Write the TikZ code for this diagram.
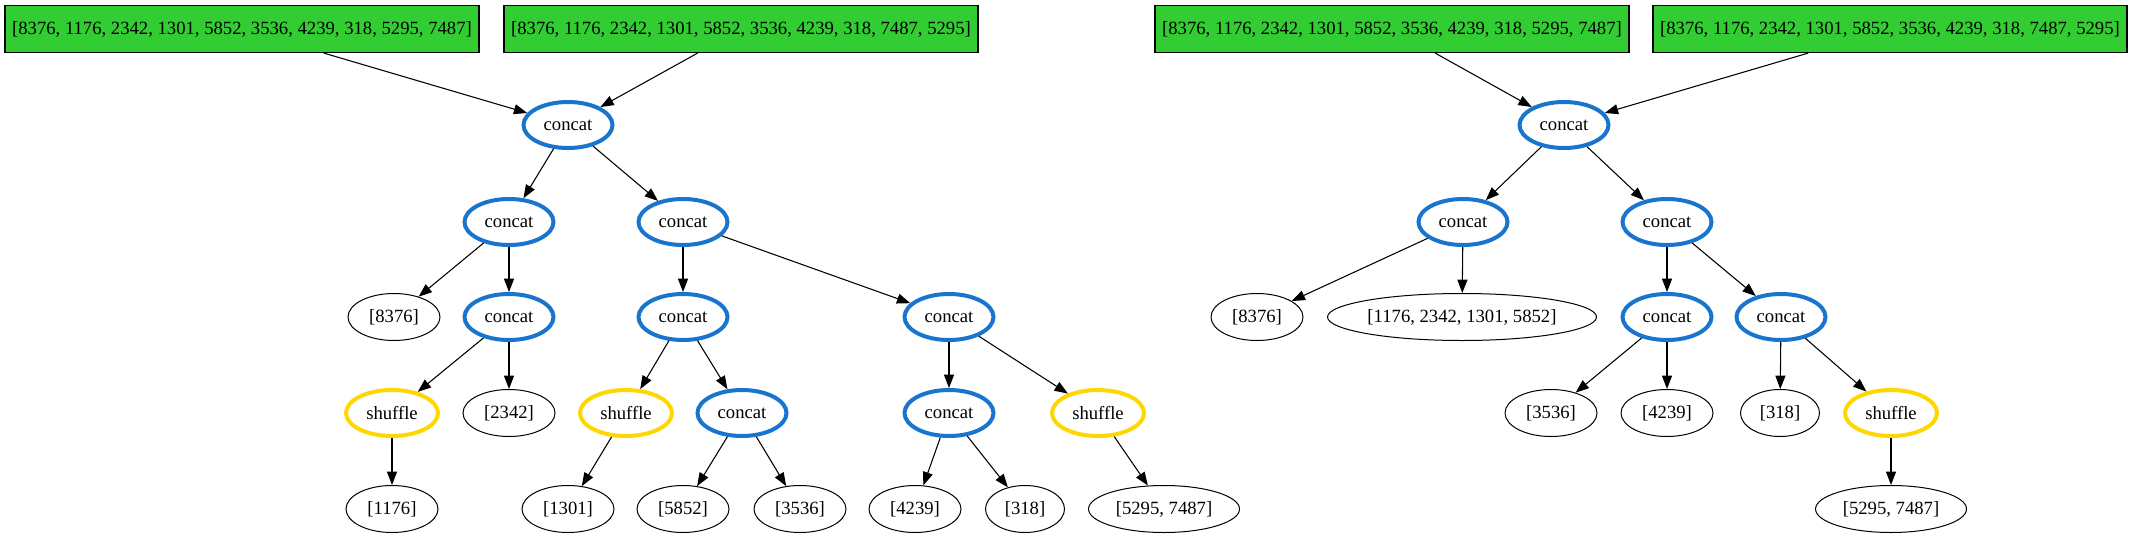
\documentclass[tikz,border=0pt]{standalone}
\usepackage{fontspec}
\setmainfont{Liberation Serif}
\usetikzlibrary{shapes.geometric,arrows.meta}
\definecolor{boxgreen}{HTML}{32CD32}
\definecolor{opblue}{HTML}{1874CD}
\definecolor{opgold}{HTML}{FFD700}
\tikzset{
  every node/.style={font=\fontsize{14pt}{16pt}\selectfont, inner sep=0pt},
  inbox/.style={rectangle, draw=black, line width=0.9pt, fill=boxgreen, minimum width=355.5pt, minimum height=35.25pt},
  catnode/.style={ellipse, draw=opblue, line width=3pt, minimum width=66.75pt, minimum height=34.5pt},
  shufnode/.style={ellipse, draw=opgold, line width=3pt, minimum width=69pt, minimum height=34.5pt},
  leaf/.style={ellipse, draw=black, line width=0.75pt, minimum width=69pt, minimum height=35.25pt},
  conn/.style={draw=black, line width=0.8pt, -{Triangle[length=10pt,width=7.5pt]}}
}
\begin{document}
\begin{tikzpicture}[x=0.75pt, y=-0.75pt]
\useasboundingbox (0,0) rectangle (2133,539);
% ---------- left tree ----------
\node[inbox] (b1) at (242,29) {[8376, 1176, 2342, 1301, 5852, 3536, 4239, 318, 5295, 7487]};
\node[inbox] (b2) at (741,29) {[8376, 1176, 2342, 1301, 5852, 3536, 4239, 318, 7487, 5295]};
\node[catnode] (c0) at (568,125) {concat};
\node[catnode] (c1) at (509,222) {concat};
\node[catnode] (c2) at (683,222) {concat};
\node[leaf] (l8376) at (394,317) {[8376]};
\node[catnode] (c3) at (509,317) {concat};
\node[catnode] (c4) at (683,317) {concat};
\node[catnode] (c5) at (949,317) {concat};
\node[shufnode] (s1) at (392,413) {shuffle};
\node[leaf] (l2342) at (509,413) {[2342]};
\node[shufnode] (s2) at (626,413) {shuffle};
\node[catnode] (c6) at (742,413) {concat};
\node[catnode] (c7) at (949,413) {concat};
\node[shufnode] (s3) at (1098,413) {shuffle};
\node[leaf] (l1176) at (392,509) {[1176]};
\node[leaf] (l1301) at (568,509) {[1301]};
\node[leaf] (l5852) at (683,509) {[5852]};
\node[leaf] (l3536) at (800,509) {[3536]};
\node[leaf] (l4239) at (915,509) {[4239]};
\node[leaf, minimum width=59.25pt] (l318) at (1025,509) {[318]};
\node[leaf, minimum width=113.25pt] (l5295) at (1164,509) {[5295, 7487]};
\draw[conn] (b1) -- (c0);
\draw[conn] (b2) -- (c0);
\draw[conn] (c0) -- (c1);
\draw[conn] (c0) -- (c2);
\draw[conn] (c1) -- (l8376);
\draw[conn] (c1) -- (c3);
\draw[conn] (c2) -- (c4);
\draw[conn] (c2) -- (c5);
\draw[conn] (c3) -- (s1);
\draw[conn] (c3) -- (l2342);
\draw[conn] (c4) -- (s2);
\draw[conn] (c4) -- (c6);
\draw[conn] (c5) -- (c7);
\draw[conn] (c5) -- (s3);
\draw[conn] (s1) -- (l1176);
\draw[conn] (s2) -- (l1301);
\draw[conn] (c6) -- (l5852);
\draw[conn] (c6) -- (l3536);
\draw[conn] (c7) -- (l4239);
\draw[conn] (c7) -- (l318);
\draw[conn] (s3) -- (l5295);
% ---------- right tree ----------
\node[inbox] (b3) at (1392,29) {[8376, 1176, 2342, 1301, 5852, 3536, 4239, 318, 5295, 7487]};
\node[inbox] (b4) at (1890,29) {[8376, 1176, 2342, 1301, 5852, 3536, 4239, 318, 7487, 5295]};
\node[catnode] (d0) at (1564,125) {concat};
\node[catnode] (d1) at (1463,222) {concat};
\node[catnode] (d2) at (1667,222) {concat};
\node[leaf] (r8376) at (1257,317) {[8376]};
\node[leaf, minimum width=201.75pt] (rbig) at (1462,317) {[1176, 2342, 1301, 5852]};
\node[catnode] (d3) at (1667,317) {concat};
\node[catnode] (d4) at (1781,317) {concat};
\node[leaf] (r3536) at (1551,413) {[3536]};
\node[leaf] (r4239) at (1667,413) {[4239]};
\node[leaf, minimum width=59.25pt] (r318) at (1780,413) {[318]};
\node[shufnode] (s4) at (1891,413) {shuffle};
\node[leaf, minimum width=113.25pt] (r5295) at (1891,509) {[5295, 7487]};
\draw[conn] (b3) -- (d0);
\draw[conn] (b4) -- (d0);
\draw[conn] (d0) -- (d1);
\draw[conn] (d0) -- (d2);
\draw[conn] (d1) -- (r8376);
\draw[conn] (d1) -- (rbig);
\draw[conn] (d2) -- (d3);
\draw[conn] (d2) -- (d4);
\draw[conn] (d3) -- (r3536);
\draw[conn] (d3) -- (r4239);
\draw[conn] (d4) -- (r318);
\draw[conn] (d4) -- (s4);
\draw[conn] (s4) -- (r5295);
\end{tikzpicture}
\end{document}
